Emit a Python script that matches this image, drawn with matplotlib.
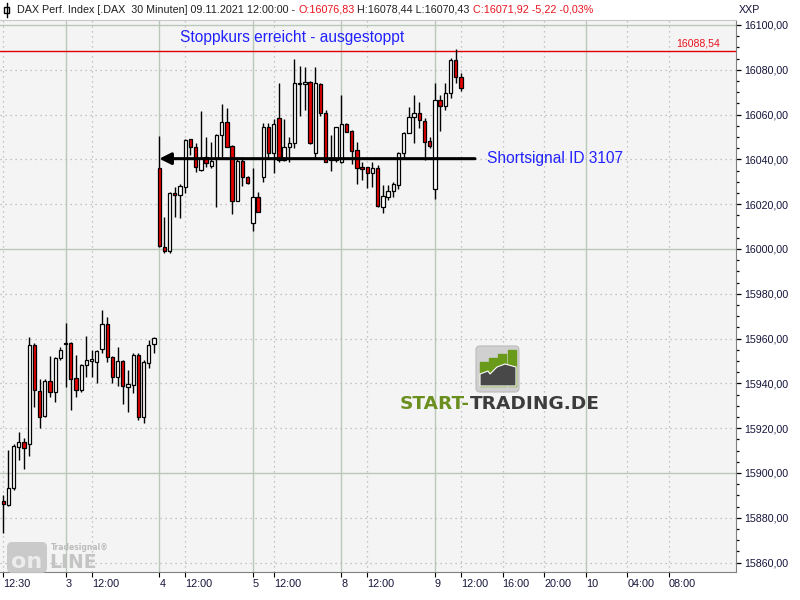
import numpy as np
import matplotlib
matplotlib.use("Agg")
import matplotlib.pyplot as plt
from matplotlib import font_manager
from matplotlib.colors import LinearSegmentedColormap
from matplotlib.patches import FancyBboxPatch, Rectangle, Polygon
from matplotlib.ticker import FixedLocator, MultipleLocator, FuncFormatter

# 30-minute candles, DAX Perf. Index, 02.11. 12:30 - 09.11.2021 12:00
opens = [15887.4, 15885.9, 15893.2, 15911.7, 15913.7, 15912.8, 15957.1, 15936.6, 15925.4, 15941.1, 15936.0, 15951.5,
         15957.4, 15958.2, 15942.3, 15936.9, 15948.1, 15950.1, 15949.7, 15955.2, 15966.4, 15951.6, 15943.0, 15950.1,
         15938.5, 15939.3, 15952.7, 15924.9, 15949.2, 15957.4,
         16036.0, 16001.0, 15999.2, 16025.0, 16024.0, 16027.8, 16049.0, 16045.4, 16035.3, 16040.9, 16037.2, 16040.5,
         16050.9, 16056.8, 16046.0, 16021.6, 16039.4, 16032.3,
         16011.5, 16023.4, 16032.0, 16054.3, 16042.7, 16058.3, 16039.7, 16045.4, 16047.2, 16073.5, 16073.5, 16074.4,
         16042.7, 16073.7, 16060.6, 16040.0, 16039.7,
         16039.0, 16055.8, 16052.8, 16044.2, 16036.2, 16036.5, 16033.8, 16036.0, 16018.9, 16023.4, 16026.0, 16028.6,
         16042.7, 16051.9, 16059.1, 16060.6, 16057.3, 16048.2,
         16026.6, 16066.5, 16064.0, 16069.5, 16084.4, 16076.83]
highs = [15890.2, 15910.3, 15913.0, 15918.2, 15915.5, 15960.6, 15958.2, 15941.8, 15941.8, 15952.2, 15951.9, 15956.4,
         15967.1, 15958.6, 15952.7, 15948.5, 15961.2, 15954.9, 15954.9, 15972.8, 15969.8, 15952.2, 15956.4, 15950.4,
         15946.0, 15953.4, 15953.4, 15950.4, 15959.4, 15960.6,
         16050.4, 16014.4, 16025.3, 16027.8, 16028.9, 16049.0, 16049.3, 16047.5, 16061.7, 16049.9, 16047.9, 16051.2,
         16064.7, 16062.8, 16046.2, 16041.2, 16041.2, 16032.6,
         16036.0, 16025.6, 16056.1, 16056.1, 16057.9, 16074.0, 16057.9, 16049.9, 16084.7, 16081.7, 16081.4, 16074.8,
         16081.1, 16074.2, 16062.1, 16050.9, 16054.5,
         16068.8, 16056.1, 16053.1, 16047.9, 16039.0, 16036.8, 16039.0, 16037.5, 16028.6, 16028.6, 16030.1, 16043.4,
         16052.4, 16063.5, 16068.8, 16065.8, 16058.3, 16050.1,
         16074.0, 16068.8, 16074.0, 16085.1, 16089.2, 16078.44]
lows = [15873.3, 15885.4, 15892.4, 15905.8, 15901.7, 15907.7, 15929.6, 15920.0, 15924.9, 15934.1, 15931.8, 15950.4,
        15938.5, 15928.1, 15934.1, 15936.3, 15943.0, 15943.0, 15940.0, 15953.4, 15949.7, 15940.0, 15938.8, 15930.8,
        15927.4, 15935.6, 15923.7, 15922.2, 15947.0, 15953.4,
        16000.8, 15998.3, 15998.1, 16014.4, 16013.7, 16025.1, 16042.0, 16034.2, 16035.0, 16036.5, 16036.0, 16018.9,
        16041.2, 16045.5, 16015.5, 16021.3, 16028.1, 16029.0,
        16008.2, 16016.5, 16030.1, 16040.5, 16034.1, 16039.0, 16039.4, 16039.0, 16045.0, 16059.4, 16062.1, 16047.0,
        16040.5, 16059.4, 16038.8, 16034.9, 16038.7,
        16038.3, 16052.1, 16037.9, 16029.0, 16030.8, 16027.1, 16027.8, 16018.9, 16016.2, 16021.9, 16023.4, 16026.6,
        16040.0, 16051.6, 16047.5, 16053.9, 16039.7, 16045.0,
        16022.2, 16052.8, 16062.1, 16067.3, 16074.2, 16070.43]
closes = [15886.0, 15893.2, 15912.1, 15913.7, 15911.3, 15957.1, 15937.1, 15925.1, 15941.1, 15936.0, 15951.2, 15954.9,
          15957.9, 15942.1, 15937.1, 15948.2, 15950.4, 15950.3, 15954.5, 15966.4, 15951.9, 15943.0, 15950.1, 15938.8,
          15939.6, 15952.7, 15924.9, 15949.7, 15957.1, 15960.1,
          16001.5, 15999.2, 16024.9, 16024.0, 16028.3, 16048.7, 16045.4, 16036.5, 16040.5, 16038.3, 16039.4, 16050.9,
          16056.8, 16045.7, 16021.6, 16039.4, 16032.0, 16029.6,
          16023.4, 16016.7, 16054.3, 16042.7, 16055.8, 16039.7, 16045.4, 16047.2, 16074.0, 16074.2, 16074.6, 16047.2,
          16074.0, 16060.6, 16039.0, 16039.7, 16054.3,
          16055.8, 16052.4, 16043.9, 16036.0, 16035.9, 16033.8, 16036.0, 16019.2, 16023.7, 16026.0, 16029.0, 16042.7,
          16051.6, 16059.1, 16060.6, 16057.6, 16047.9, 16046.0,
          16066.5, 16064.0, 16069.5, 16084.4, 16076.9, 16071.92]

# time axis (bar slots), day starts get solid grid lines
tick_pos = [0, 12, 17, 30, 35, 48, 52, 65, 70, 83, 88, 96, 104, 112, 120, 128]
tick_labels = ["12:30", "3", "12:00", "4", "12:00", "5", "12:00", "8", "12:00", "9", "12:00",
               "16:00", "20:00", "10", "04:00", "08:00"]
day_starts = [12, 30, 48, 65, 83, 112]

stop_level = 16088.54
signal_level = 16040.3
signal_from, signal_to = 90.7, 30
header_parts = [("DAX Perf. Index [.DAX  30 Minuten] 09.11.2021 12:00:00 - ", "#202020"),
                ("O:16076,83", "#e8141e"),
                (" H:16078,44 L:16070,43 ", "#202020"),
                ("C:16071,92 -5,22 -0,03%", "#e8141e")]


def pick(names):
    for n in names:
        try:
            font_manager.findfont(font_manager.FontProperties(family=n), fallback_to_default=False)
            return n
        except Exception:
            pass
    return "DejaVu Sans"


sans = pick(["Liberation Sans", "Arial"])
narrow = pick(["Liberation Sans Narrow"])
nscale = 1.0
if narrow != "Liberation Sans Narrow":
    narrow = sans
    nscale = 0.84

W, H = 800, 600
fig = plt.figure(figsize=(8, 6), dpi=100)

# background panels in pixel coordinates
bg = fig.add_axes([0, 0, 1, 1], zorder=-10)
bg.set_xlim(0, W)
bg.set_ylim(H, 0)
bg.axis("off")
bg.add_patch(Rectangle((0, 0), W, H, color="white"))
grey_h = LinearSegmentedColormap.from_list("gh", ["#fafafa", "#bdbdbd"])
bg.imshow(np.linspace(0, 1, 64)[None, :], cmap=grey_h, extent=(736, 800, 600, 0), aspect="auto")
grey_v = LinearSegmentedColormap.from_list("gv", ["#f0f0f0", "#dedede"])
bg.imshow(np.linspace(0, 1, 28)[:, None], cmap=grey_v, extent=(0, 736, 600, 572), aspect="auto")
bg.set_xlim(0, W)
bg.set_ylim(H, 0)
# small candle icon in header
bg.plot([6.5, 6.5], [3, 17], color="black", lw=1)
bg.add_patch(Rectangle((4, 6.5), 5, 6, facecolor="white", edgecolor="black", lw=1))

ax = fig.add_axes([0, 28 / H, 736 / W, 552 / H])
ax.set_facecolor("#f4f4f4")
ax.set_xlim(-0.63, 140.9)
ax.set_ylim(15855.8, 16102.2)

# grid
for p in tick_pos:
    if p in day_starts:
        ax.axvline(p, color="#b9c9b9", lw=1, zorder=1)
    else:
        ax.axvline(p, color="#b4b4b4", lw=0.9, ls=(0, (1, 3)), zorder=1)
for v in np.arange(15860, 16101, 20):
    if v % 100 == 0:
        ax.axhline(v, color="#b9c9b9", lw=1, zorder=1)
    else:
        ax.axhline(v, color="#b4b4b4", lw=0.9, ls=(0, (1, 3)), zorder=1)

# candles
idx = np.arange(len(opens))
o = np.array(opens)
c = np.array(closes)
ax.vlines(idx, lows, highs, color="black", lw=1.0, zorder=3)
body_low = np.minimum(o, c)
body_h = np.maximum(np.abs(c - o), 0.7)
colors = np.where(c >= o, "white", "#e60000")
ax.bar(idx, body_h, bottom=body_low, width=0.62, color=colors, edgecolor="black", linewidth=0.9, zorder=4)

# stop level
ax.axhline(stop_level, color="#e00000", lw=1, zorder=2)
ax.text(137.8, 16091.6, f"{stop_level:.2f}".replace(".", ","), color="#e8141e", fontsize=7.6,
        family=sans, ha="right", va="center")
ax.text(34.0, 16094.2, "Stoppkurs erreicht - ausgestoppt", color="#2222ff", fontsize=11.2,
        family=sans, ha="left", va="center")

# short signal arrow
ax.annotate("", xy=(signal_to, signal_level), xytext=(signal_from, signal_level),
            arrowprops=dict(arrowstyle="-|>,head_length=0.7,head_width=0.35", color="black", lw=2.2,
                            shrinkA=0, shrinkB=0, mutation_scale=10), zorder=5)
ax.text(93.0, signal_level, "Shortsignal ID 3107", color="#2222ff", fontsize=11.2,
        family=sans, ha="left", va="center")

# axes styling
for side in ["left", "top"]:
    ax.spines[side].set_visible(False)
ax.spines["right"].set_color("#808080")
ax.spines["bottom"].set_color("#808080")
ax.yaxis.tick_right()
ax.yaxis.set_major_locator(FixedLocator(np.arange(15860, 16101, 20)))
ax.yaxis.set_minor_locator(MultipleLocator(5))
ax.yaxis.set_major_formatter(FuncFormatter(lambda v, p: f"{v:.2f}".replace(".", ",")))
ax.tick_params(axis="y", which="major", length=3.5, width=0.9, pad=2.5, labelsize=7.7,
               labelcolor="#14143a", color="black")
ax.tick_params(axis="y", which="minor", length=2, width=0.9, color="black")
ax.set_xticks(tick_pos)
ax.set_xticklabels(tick_labels)
ax.tick_params(axis="x", length=3.5, width=0.8, pad=1.5, labelsize=9.3 * nscale, labelcolor="#14143a")
for lab in ax.get_xticklabels():
    lab.set_ha("left")
    lab.set_family(narrow)
for lab in ax.get_yticklabels():
    lab.set_family(sans)

# header line
fig.add_artist(plt.Line2D([0, 736 / W], [1 - 20 / H, 1 - 20 / H], color="#c8c8c8", lw=0.8))
fig.text(739 / W, 1 - 10 / H, "XXP", fontsize=7.7, family=sans, color="#14143a", va="center")
renderer = fig.canvas.get_renderer()
hsize = 9.2 * nscale
bar_w = fig.text(0, 0, "|", fontsize=hsize, family=narrow)
bw = bar_w.get_window_extent(renderer=renderer).width
bar_w.remove()
prefix = ""
for part, col in header_parts:
    probe = fig.text(0, 0, prefix + "|", fontsize=hsize, family=narrow)
    x = 17 + (probe.get_window_extent(renderer=renderer).width - bw if prefix else 0)
    probe.remove()
    fig.text(x / W, 1 - 10 / H, part, color=col, fontsize=hsize, family=narrow, va="center")
    prefix += part

# logos on top of the chart area
ov = fig.add_axes([0, 0, 1, 1], zorder=5)
ov.set_xlim(0, W)
ov.set_ylim(H, 0)
ov.axis("off")
ov.patch.set_alpha(0)
ov.add_patch(FancyBboxPatch((476, 346), 43, 46, boxstyle="round,pad=0,rounding_size=4",
                            facecolor="#d0d0d0", edgecolor="#bcbcbc", lw=0.8))
for bx, top in [(480, 362), (489, 358), (498, 354), (508, 350)]:
    ov.add_patch(Rectangle((bx, top), 7.5, 386 - top, color="#6a9a1a"))
ov.add_patch(Polygon([(480, 374), (488, 371), (490, 374), (497, 367), (505, 364), (516, 367),
                      (516, 386), (480, 386)], closed=True, facecolor="#484848", edgecolor="white", lw=0.8))
t1 = ov.text(400, 404, "START-", color="#6a8f1f", fontsize=13.3, fontweight="bold",
             family="DejaVu Sans", ha="left", va="center")
w1 = t1.get_window_extent(renderer=renderer).width
ov.text(400 + w1, 404, "TRADING.DE", color="#3c3c3c", fontsize=13.3, fontweight="bold",
        family="DejaVu Sans", ha="left", va="center")

ov.add_patch(FancyBboxPatch((7, 542), 40, 31, boxstyle="round,pad=0,rounding_size=5",
                            facecolor="#c6c6c6", edgecolor="none", alpha=0.9))
ov.text(27, 562, "on", color="#ececec", fontsize=16, fontweight="bold", family="DejaVu Sans",
        ha="center", va="center")
ov.text(49, 563, "LINE", color="#c4c4c4", fontsize=13.5, fontweight="bold", family="DejaVu Sans",
        ha="left", va="center")
ov.text(51, 548, "Tradesignal\u00ae", color="#bdbdbd", fontsize=5.5, fontweight="bold", family="DejaVu Sans",
        ha="left", va="center")

fig.savefig("out.png", dpi=100)
